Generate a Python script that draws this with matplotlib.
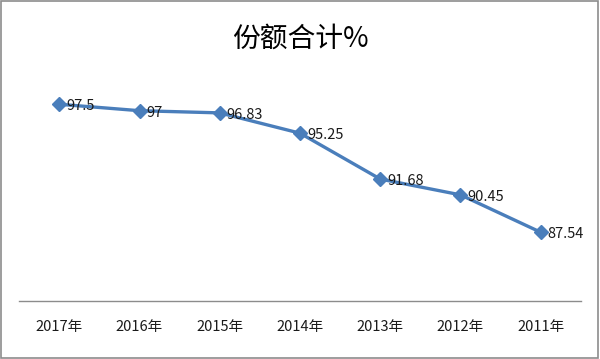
import matplotlib
matplotlib.use("Agg")
import matplotlib.pyplot as plt
from matplotlib.patches import Rectangle

plt.rcParams['font.family'] = ['Noto Sans CJK SC', 'DejaVu Sans']

years = ["2017年", "2016年", "2015年", "2014年", "2013年", "2012年", "2011年"]
share = [97.5, 97, 96.83, 95.25, 91.68, 90.45, 87.54]
labels = ["97.5", "97", "96.83", "95.25", "91.68", "90.45", "87.54"]

fig = plt.figure(figsize=(6, 3.59), dpi=100)
fig.patches.append(Rectangle((0.002, 0.003), 0.995, 0.993, transform=fig.transFigure,
                             fill=False, edgecolor="#8c8c8c", linewidth=1.2))

ax = fig.add_axes([0.032, 0.162, 0.936, 0.637])
x = list(range(len(years)))
ax.plot(x, share, color="#4a7ebb", linewidth=2.4, marker="D", markersize=7,
        markerfacecolor="#4a7ebb", markeredgecolor="#4a7ebb")
for xi, v, t in zip(x, share, labels):
    ax.annotate(t, (xi, v), xytext=(5, -1.5), textcoords="offset points",
                ha="left", va="center", fontsize=10.5, color="#1a1a1a")

ax.set_xlim(-0.5, len(years) - 0.5)
ax.set_ylim(82.2, 100)
ax.set_xticks(x)
ax.set_xticklabels(years, fontsize=10.5, color="#1a1a1a")
ax.tick_params(axis="x", length=0, pad=14)
ax.set_yticks([])
for s in ["top", "right", "left"]:
    ax.spines[s].set_visible(False)
ax.spines["bottom"].set_color("#8c8c8c")
ax.spines["bottom"].set_linewidth(1.0)

fig.text(0.5, 0.893, "份额合计%", ha="center", va="center", fontsize=20, color="#000000")

fig.savefig("out.png", dpi=100)
